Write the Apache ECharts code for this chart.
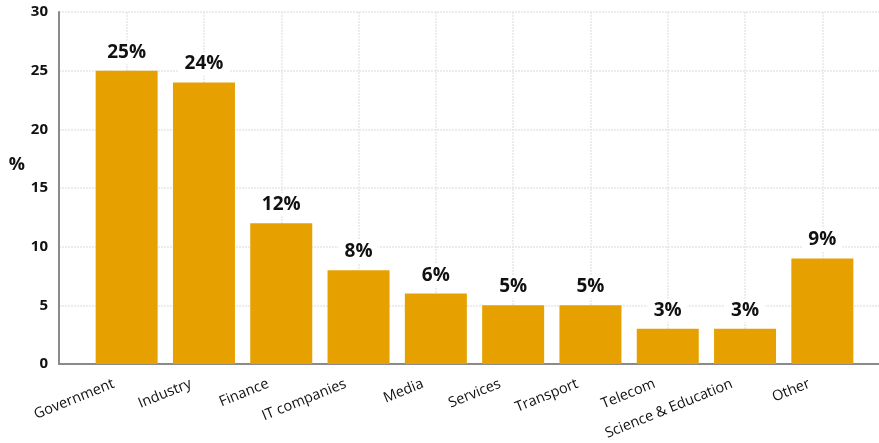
<!DOCTYPE html>
<html>
<head>
  <meta charset="utf-8">
  <script src="https://cdn.jsdelivr.net/npm/echarts@6/dist/echarts.min.js"></script>
  <style>
    html, body { margin: 0; padding: 0; background: #fff; }
    #chart { width: 879px; height: 443px; }
  </style>
</head>
<body>
<div id="chart"></div>
<script>
  // data
  let categories = ['Government', 'Industry', 'Finance', 'IT companies', 'Media',
    'Services', 'Transport', 'Telecom', 'Science & Education', 'Other'];
  let shares = [25, 24, 12, 8, 6, 5, 5, 3, 3, 9];
  let yTicks = [0, 5, 10, 15, 20, 25, 30];

  let chart = echarts.init(document.getElementById('chart'));
  let font = '"Open Sans", "Liberation Sans", sans-serif';

  let option = {
    animation: false,
    textStyle: { fontFamily: font },
    grid: [
      // frame: axis lines + horizontal grid
      { left: 59, right: 0, top: 12, bottom: 79 },
      // bars
      { left: 88, right: 18, top: 12, bottom: 79 }
    ],
    xAxis: [
      {
        type: 'value', gridIndex: 0, min: 0, max: 1,
        axisLine: { show: true, lineStyle: { color: '#8a8a8a', width: 2 } },
        axisTick: { show: false },
        axisLabel: { show: false },
        splitLine: { show: false }
      },
      {
        type: 'category', gridIndex: 1, data: categories,
        axisLine: { show: false },
        axisTick: { show: true, alignWithLabel: true, length: 3, inside: true, lineStyle: { color: '#555' } },
        splitLine: { show: true, alignWithLabel: true, lineStyle: { color: '#e8e8e8', width: 1.5, type: [2, 1] } },
        axisLabel: {
          rotate: 22, margin: 14, color: '#111', fontSize: 14.5, fontFamily: font,
          padding: [0, 14, 0, 0]
        }
      }
    ],
    yAxis: [
      {
        type: 'value', gridIndex: 0, min: 0, max: 30, interval: 5,
        name: '%', nameLocation: 'middle', nameRotate: 0, nameGap: 32,
        nameTextStyle: {
          color: '#111', fontSize: 18, fontWeight: 'bold',
          verticalAlign: 'bottom', lineHeight: 46
        },
        axisLine: { show: true, lineStyle: { color: '#8a8a8a', width: 2 } },
        axisTick: { show: false },
        axisLabel: {
          color: '#111', fontSize: 15, fontWeight: 'bold', margin: 11,
          formatter: v => yTicks.indexOf(v) >= 0 ? String(v) : ''
        },
        splitLine: { show: true, lineStyle: { color: '#e6e6e6', width: 1.5, type: [2, 1] } }
      },
      {
        type: 'value', gridIndex: 1, min: 0, max: 30, interval: 5,
        axisLine: { show: false }, axisTick: { show: false },
        axisLabel: { show: false }, splitLine: { show: false }
      }
    ],
    series: [
      {
        type: 'bar', xAxisIndex: 1, yAxisIndex: 1,
        data: shares, barWidth: 62,
        itemStyle: { color: '#E6A100' },
        label: {
          show: true, position: 'top', distance: 7,
          formatter: p => p.value + '%',
          color: '#111', fontSize: 19, fontWeight: 'bold', fontFamily: font,
          backgroundColor: '#fff', padding: [2, 6]
        }
      }
    ]
  };

  chart.setOption(option);
</script>
</body>
</html>
